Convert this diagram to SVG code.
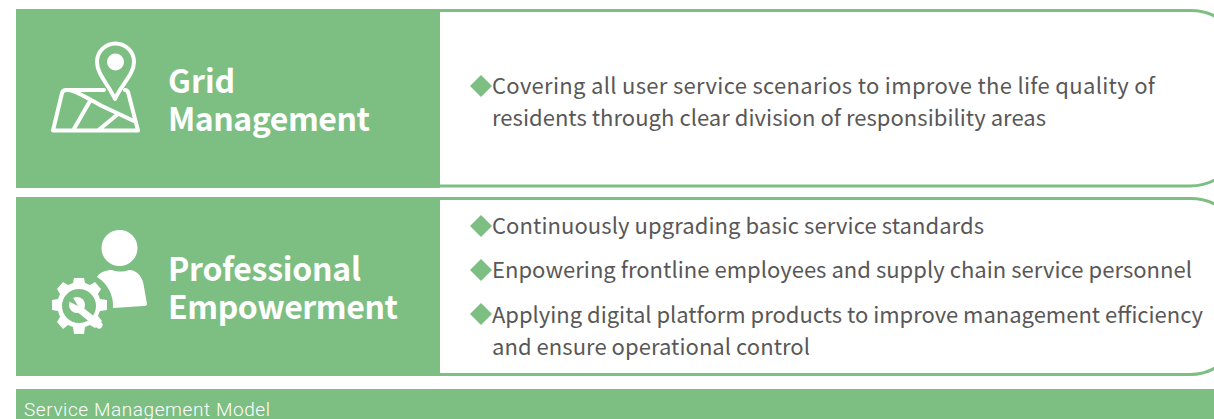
<svg xmlns="http://www.w3.org/2000/svg" width="1214" height="419" viewBox="0 0 1214 419">
<style>
.g{fill:#7dbe83}
.b{fill:#fff;stroke:#7dbe83;stroke-width:3}
.t{font-family:"Noto Sans CJK SC","Noto Sans",sans-serif;font-size:32px;font-weight:700;fill:#fff}
.d{font-family:"Noto Sans CJK SC","Noto Sans",sans-serif;font-size:22px;fill:#595757}
.m{fill:#7dbe83;stroke:none}
.i{fill:none;stroke:#fff;stroke-width:4;stroke-linecap:round;stroke-linejoin:round}
</style>
<rect width="1214" height="419" fill="#fff"/>
<g id="grid-management">
<path class="b" d="M420 10.500H1190Q1206 10.500 1218 18V178Q1206 186 1190 186H420Z"/>
<rect class="g" x="16" y="9" width="424" height="179"/>
<path class="i" d="M115 99C108 84 97 74 97 62A18.500 18.500 0 0 1 134 62C134 74 122 84 115 99Z"/>
<circle cx="115.500" cy="62" r="8.500" fill="#fff"/>
<path class="i" d="M104 90H66Q63 90 62 93L53 130.500H138L128 92Q127 90 125 90M68 90C76 90 88 99 102 106L136 122M90 101L73 130.500M118 114L98 130.500"/>
<text class="t" x="168" y="92.500">Grid</text>
<text class="t" x="168" y="131" textLength="202" lengthAdjust="spacing">Management</text>
<g class="d"><path class="m" d="M481 75L492 86L481 97L470 86Z"/>
<text x="492" y="94" textLength="663">Covering all user service scenarios to improve the life quality of</text>
<text x="492" y="126" textLength="554">residents through clear division of responsibility areas</text></g>
</g>
<g id="professional-empowerment">
<path class="b" d="M420 198.500H1190Q1206 198.500 1218 206V366Q1206 374.500 1190 374.500H420Z"/>
<rect class="g" x="16" y="197" width="424" height="179"/>
<circle cx="119.500" cy="248" r="18" fill="#fff"/>
<path fill="#fff" d="M97 277C100 272 106 270 112 270C118 272 123 272 129 270C138 270 143 278 144 287L147 304Q147 306 143 306L113 308A34 34 0 0 0 97 277Z"/>
<g fill="#fff"><path fill-rule="evenodd" d="M74 278L84 278L85 283L90 285L95 282L101 289L98 294L100 299L107 300V310L100 311L98 316L102 321L95 328L90 325L85 327L84 334H74L73 327L68 325L63 329L57 322L60 317L58 311L52 310V300L58 299L60 294L57 289L63 282L68 285L73 283ZM79 289A17 17 0 1 0 79 323A17 17 0 1 0 79 289Z"/>
<circle cx="77" cy="305" r="8"/>
<path d="M78 308L99 325" stroke="#fff" stroke-width="7" stroke-linecap="round"/>
<path class="m" d="M78 306L72 296L68 301Z"/></g>
<text class="t" x="168" y="281" textLength="193">Professional</text>
<text class="t" x="168" y="319" textLength="230">Empowerment</text>
<g class="d"><path class="m" d="M481 215L492 226L481 237L470 226Z"/>
<text x="492" y="234" textLength="492">Continuously upgrading basic service standards</text>
<path class="m" d="M481 259L492 270L481 281L470 270Z"/>
<text x="492" y="278" textLength="700">Enpowering frontline employees and supply chain service personnel</text>
<path class="m" d="M481 303L492 314L481 325L470 314Z"/>
<text x="492" y="323" textLength="711">Applying digital platform products to improve management efficiency</text>
<text x="492" y="355" textLength="318">and ensure operational control</text></g>
</g>
<g id="footer">
<rect class="g" x="16" y="389" width="1198" height="30"/>
<text x="24" y="416" font-family="Roboto,'Noto Sans',sans-serif" font-size="19" font-weight="300" fill="#fff" textLength="246">Service Management Model</text>
</g>
<g id="connectors"/>
</svg>
